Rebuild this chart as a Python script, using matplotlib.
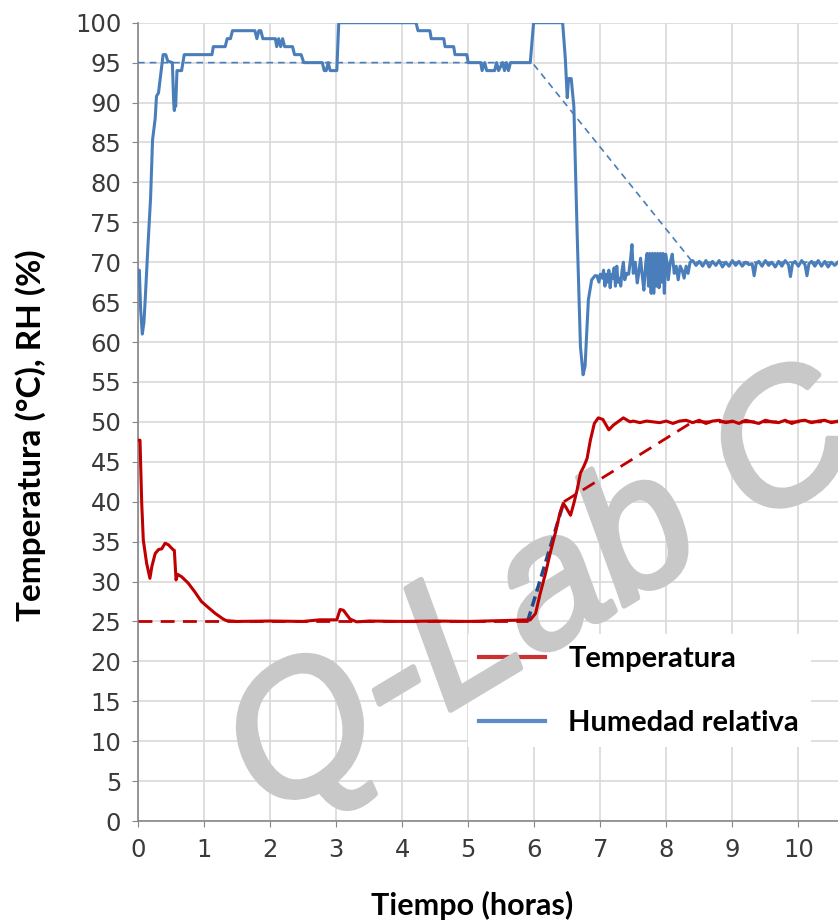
import matplotlib.pyplot as plt
import matplotlib.patheffects as pe
from matplotlib.lines import Line2D

# temperature trace (hours, degC)
temp_x = [0.00, 0.03, 0.056, 0.08, 0.13, 0.18, 0.21, 0.26, 0.31, 0.36, 0.41, 0.46, 0.53, 0.55,
          0.576, 0.60, 0.66, 0.76, 0.86, 0.96, 1.07, 1.17, 1.29, 1.34, 1.5, 2.0, 2.5, 2.75, 2.98,
          3.01, 3.06, 3.11, 3.21, 3.31, 3.5, 4.0, 4.5, 5.0, 5.5, 5.94, 6.02, 6.09, 6.17, 6.24,
          6.32, 6.39, 6.44, 6.48, 6.55, 6.60, 6.65, 6.70, 6.75, 6.80, 6.85, 6.91, 6.97, 7.04,
          7.13, 7.20, 7.35, 7.45, 7.5, 7.6, 7.7, 7.8, 7.9, 8.0, 8.1, 8.2, 8.3, 8.4, 8.5, 8.6,
          8.7, 8.8, 8.9, 9.0, 9.1, 9.2, 9.3, 9.4, 9.5, 9.6, 9.7, 9.8, 9.9, 10.0, 10.1, 10.2,
          10.3, 10.4, 10.5, 10.6]
temp_y = [47.7, 47.7, 39.8, 35.2, 32.3, 30.4, 31.9, 33.5, 34.0, 34.1, 34.8, 34.6, 34.0, 33.9,
          30.2, 30.9, 30.6, 29.8, 28.7, 27.5, 26.7, 26.0, 25.3, 25.1, 25.0, 25.05, 25.0, 25.2,
          25.2, 25.2, 26.5, 26.4, 25.3, 24.95, 25.05, 25.0, 25.05, 25.0, 25.1, 25.2, 26.0, 28.5,
          31.0, 33.5, 36.1, 38.6, 39.8, 39.3, 38.3, 39.8, 41.5, 43.6, 44.4, 45.4, 47.7, 49.8,
          50.5, 50.3, 49.0, 49.6, 50.5, 50.0, 50.1, 49.9, 50.1, 50.0, 49.9, 50.1, 49.8, 50.1,
          50.2, 49.9, 50.2, 49.8, 50.1, 50.2, 49.9, 50.1, 49.8, 50.2, 50.0, 49.8, 50.2, 50.0,
          49.9, 50.2, 49.8, 50.1, 50.2, 49.9, 50.1, 50.2, 49.9, 50.1]

# relative humidity trace (hours, %)
rh_x = [0.00, 0.02, 0.04, 0.065, 0.09, 0.11, 0.15, 0.19, 0.22, 0.26, 0.28, 0.31, 0.35, 0.38,
        0.42, 0.45, 0.52, 0.54, 0.55, 0.56, 0.57, 0.59, 0.66, 0.70, 1.12, 1.14, 1.32, 1.35,
        1.40, 1.43, 1.77, 1.80, 1.83, 1.86, 1.89, 2.08, 2.10, 2.13, 2.16, 2.19, 2.22, 2.34,
        2.37, 2.47, 2.51, 2.79, 2.82, 2.85, 2.88, 2.91, 3.01, 3.04, 4.21, 4.24, 4.42, 4.44,
        4.63, 4.65, 4.78, 4.80, 4.98, 5.00, 5.19, 5.21, 5.25, 5.28, 5.40, 5.43, 5.46, 5.52,
        5.55, 5.58, 5.61, 5.64, 5.94, 5.99, 6.43, 6.47, 6.50, 6.52, 6.56, 6.60, 6.65, 6.70,
        6.74, 6.77, 6.80, 6.82, 6.87, 6.92, 6.95, 6.98, 7.00, 7.03, 7.05, 7.07, 7.09, 7.11,
        7.13, 7.15, 7.17, 7.19, 7.21, 7.23, 7.25, 7.27, 7.29, 7.31, 7.33, 7.35, 7.37, 7.40,
        7.43, 7.46, 7.48, 7.50, 7.53, 7.56, 7.58, 7.61, 7.64, 7.66, 7.69, 7.71, 7.73, 7.75,
        7.77, 7.79, 7.81, 7.83, 7.85, 7.87, 7.89, 7.91, 7.93, 7.95, 7.97, 7.99, 8.01, 8.03,
        8.06, 8.09, 8.12, 8.15, 8.18, 8.21, 8.24, 8.27, 8.30, 8.33, 8.36, 8.40, 8.45, 8.50,
        8.55, 8.60, 8.65, 8.70, 8.75, 8.80, 8.85, 8.90, 8.95, 9.00, 9.05, 9.10, 9.15, 9.20,
        9.25, 9.30, 9.33, 9.36, 9.40, 9.45, 9.50, 9.55, 9.60, 9.65, 9.70, 9.75, 9.80, 9.85,
        9.88, 9.91, 9.95, 10.00, 10.05, 10.10, 10.13, 10.16, 10.20, 10.25, 10.30, 10.35,
        10.40, 10.45, 10.50, 10.55, 10.60]
rh_y = [69, 69, 64, 61, 62.5, 65.5, 72, 78, 85.3, 88, 90.8, 91.2, 94, 96,
        96, 95.2, 95, 90, 89, 91, 89.5, 94, 94, 96, 96, 97, 97, 98,
        98, 99, 99, 98, 99, 99, 98, 98, 97, 98, 97, 98, 97, 97,
        96, 96, 95, 95, 94, 94, 95, 94, 94, 100, 100, 99, 99, 98,
        98, 97, 97, 96, 96, 95, 95, 94, 95, 94, 94, 95, 94, 95,
        94, 95, 94, 95, 95, 100, 100, 95.6, 90.6, 93, 93, 89.5, 73.6, 59.4,
        55.9, 57, 62, 65.3, 67.8, 68.3, 68.3, 67.5, 68.5, 68.0, 69.0, 67.0, 68.5, 67.5,
        69.0, 66.8, 68.5, 68.0, 69.3, 67.0, 69.5, 67.5, 68.0, 67.0, 69.0, 70.0, 67.8, 68.6,
        68.5, 70.5, 72.2, 68.6, 70.0, 67.4, 68.5, 70.5, 68.0, 66.5, 70.0, 71.1, 67.0, 71.1,
        66.1, 71.1, 66.1, 71.1, 67.0, 71.1, 66.8, 71.1, 67.5, 71.1, 66.1, 71.0, 70.0, 67.8,
        70.0, 71.0, 68.6, 69.5, 67.8, 69.5, 69.0, 68.0, 69.5, 68.6, 70.0, 70.2, 69.6, 70.1,
        69.5, 70.2, 69.4, 70.1, 69.6, 70.2, 69.4, 70.0, 69.5, 70.2, 69.6, 70.1, 69.5, 70.0,
        69.7, 69.8, 68.3, 69.8, 70.1, 69.5, 70.2, 69.6, 70.0, 69.4, 70.1, 69.5, 70.2, 69.7,
        68.2, 69.8, 70.1, 69.5, 70.2, 69.7, 68.3, 69.8, 70.1, 69.5, 70.2, 69.5,
        70.1, 69.4, 70.0, 69.6, 70.0]

# setpoint profiles
temp_sp_x = [0, 5.9]
temp_sp_y = [25, 25]
ramp_x = [5.9, 6.45]
ramp_y = [25, 40]
temp_sp2_x = [6.45, 8.4, 10.6]
temp_sp2_y = [40, 50, 50]
rh_sp_x = [0, 5.97, 8.4, 10.6]
rh_sp_y = [95, 95, 70, 70]

red = '#c00000'
blue = '#4a7ebb'
wm_gray = '#c8c8c8'

fig = plt.figure(figsize=(8.38, 9.23), dpi=100)
ax = fig.add_axes([0.1647, 0.1105, 0.8353, 0.8649])

ax.plot(rh_sp_x, rh_sp_y, color=blue, lw=1.2, dashes=(4, 3), zorder=5)
ax.plot(temp_sp_x, temp_sp_y, color=red, lw=2, dashes=(5, 3), zorder=5)
ax.plot(temp_sp2_x, temp_sp2_y, color=red, lw=2, dashes=(5, 3), zorder=5)
ax.plot(ramp_x, ramp_y, color='#1f4e8c', lw=2.5, dashes=(3, 1.5), zorder=5)
ax.plot(rh_x, rh_y, color=blue, lw=2.2, zorder=6)
ax.plot(temp_x, temp_y, color=red, lw=2.2, zorder=6)

ax.set_xlim(0, 10.6)
ax.set_ylim(0, 100)
ax.set_xticks(range(0, 11))
ax.set_yticks(range(0, 101, 5))
ax.grid(True, color='#d9d9d9', lw=1.2)
ax.set_axisbelow(True)
for s in ['top', 'right']:
    ax.spines[s].set_visible(False)
for s in ['left', 'bottom']:
    ax.spines[s].set_color('#868686')
    ax.spines[s].set_linewidth(1.2)
ax.tick_params(direction='out', length=4, color='#868686', labelsize=17.5,
               labelcolor='#3a3a3a', pad=8)

handles = [Line2D([], [], color='#cc3030', lw=3),
           Line2D([], [], color='#5b8bc9', lw=3)]
leg = ax.legend(handles, ['Temperatura', 'Humedad relativa'], loc='upper left',
                bbox_to_anchor=(0.471, 0.234), frameon=True, fancybox=False,
                edgecolor='none', facecolor='white', framealpha=1,
                prop={'family': 'Lato', 'weight': 'bold', 'size': 21},
                handlelength=2.25, handletextpad=0.8, borderpad=0.4,
                labelspacing=1.3, borderaxespad=0)
leg.set_zorder(3)

# watermark
wm = ax.text(0.322, 0.113, 'Q-Lab C', transform=fig.transFigure, fontsize=133,
             family='Liberation Sans', style='italic', color=wm_gray,
             rotation=31, rotation_mode='anchor', ha='left', va='baseline', zorder=4,
             clip_on=False)
wm.set_path_effects([pe.withStroke(linewidth=4, foreground=wm_gray)])

fig.text(0.036, 0.529, 'Temperatura (°C), RH (%)', rotation=90, ha='center', va='center',
         family='Lato', weight='bold', fontsize=24)
fig.text(0.563, 0.0195, 'Tiempo (horas)', ha='center', va='center',
         family='Lato', weight='bold', fontsize=22)

fig.savefig('out.png', dpi=100)
